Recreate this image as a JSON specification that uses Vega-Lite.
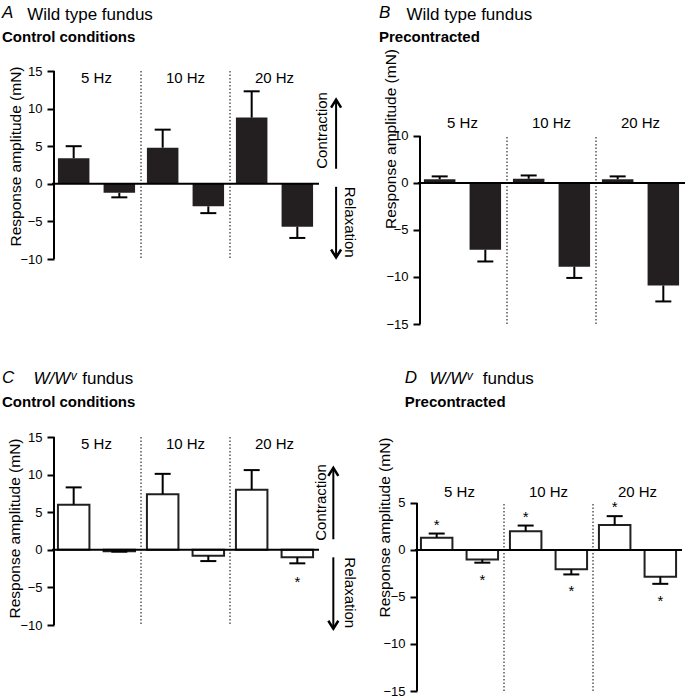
{
  "$schema": "https://vega.github.io/schema/vega-lite/v6.json",
  "padding": {"left": 2, "top": 4, "right": 0, "bottom": 0},
  "datasets": {
    "rows": [
      {"panel": "A", "freq": "5 Hz", "type": "Contraction", "value": 3.4, "end": 5.0, "sig": ""},
      {"panel": "A", "freq": "5 Hz", "type": "Relaxation", "value": -1.2, "end": -1.8, "sig": ""},
      {"panel": "A", "freq": "10 Hz", "type": "Contraction", "value": 4.8, "end": 7.2, "sig": ""},
      {"panel": "A", "freq": "10 Hz", "type": "Relaxation", "value": -3.0, "end": -3.9, "sig": ""},
      {"panel": "A", "freq": "20 Hz", "type": "Contraction", "value": 8.8, "end": 12.3, "sig": ""},
      {"panel": "A", "freq": "20 Hz", "type": "Relaxation", "value": -5.7, "end": -7.2, "sig": ""},
      {"panel": "B", "freq": "5 Hz", "type": "Contraction", "value": 0.4, "end": 0.7, "sig": ""},
      {"panel": "B", "freq": "5 Hz", "type": "Relaxation", "value": -7.1, "end": -8.35, "sig": ""},
      {"panel": "B", "freq": "10 Hz", "type": "Contraction", "value": 0.45, "end": 0.8, "sig": ""},
      {"panel": "B", "freq": "10 Hz", "type": "Relaxation", "value": -8.9, "end": -10.1, "sig": ""},
      {"panel": "B", "freq": "20 Hz", "type": "Contraction", "value": 0.4, "end": 0.7, "sig": ""},
      {"panel": "B", "freq": "20 Hz", "type": "Relaxation", "value": -10.9, "end": -12.6, "sig": ""},
      {"panel": "C", "freq": "5 Hz", "type": "Contraction", "value": 6.0, "end": 8.3, "sig": ""},
      {"panel": "C", "freq": "5 Hz", "type": "Relaxation", "value": -0.2, "end": -0.25, "sig": ""},
      {"panel": "C", "freq": "10 Hz", "type": "Contraction", "value": 7.4, "end": 10.1, "sig": ""},
      {"panel": "C", "freq": "10 Hz", "type": "Relaxation", "value": -0.8, "end": -1.5, "sig": ""},
      {"panel": "C", "freq": "20 Hz", "type": "Contraction", "value": 8.0, "end": 10.6, "sig": ""},
      {"panel": "C", "freq": "20 Hz", "type": "Relaxation", "value": -1.0, "end": -1.8, "sig": "*"},
      {"panel": "D", "freq": "5 Hz", "type": "Contraction", "value": 1.3, "end": 1.75, "sig": "*"},
      {"panel": "D", "freq": "5 Hz", "type": "Relaxation", "value": -1.0, "end": -1.35, "sig": "*"},
      {"panel": "D", "freq": "10 Hz", "type": "Contraction", "value": 2.0, "end": 2.6, "sig": "*"},
      {"panel": "D", "freq": "10 Hz", "type": "Relaxation", "value": -2.05, "end": -2.6, "sig": "*"},
      {"panel": "D", "freq": "20 Hz", "type": "Contraction", "value": 2.65, "end": 3.6, "sig": "*"},
      {"panel": "D", "freq": "20 Hz", "type": "Relaxation", "value": -2.85, "end": -3.6, "sig": "*"}
    ]
  },
  "vconcat": [
    {
      "hconcat": [
        {
          "width": 267, "height": 188,
          "title": {"text": "A", "subtitle": "Control conditions", "dx": -50},
          "data": {"name": "rows"},
          "transform": [{"filter": "datum.panel === 'A'"}],
          "resolve": {"axis": {"x": "independent", "y": "independent"}},
          "layer": [
            {
              "encoding": {
                "x": {"field": "freq", "type": "nominal", "scale": {"domain": ["5 Hz", "10 Hz", "20 Hz"], "paddingInner": 0, "paddingOuter": 0}, "axis": null},
                "xOffset": {"field": "type", "type": "nominal", "scale": {"domain": ["Contraction", "Relaxation"], "paddingInner": 0.31, "paddingOuter": 0.13}},
                "y": {"field": "value", "type": "quantitative", "scale": {"domain": [-10, 15], "nice": false}, "axis": null}
              },
              "resolve": {"axis": {"x": "independent", "y": "independent"}},
              "layer": [
                {"mark": {"type": "bar", "fill": "#231f20"},
                 "encoding": {
                   "x": {"field": "freq", "type": "nominal", "scale": {"domain": ["5 Hz", "10 Hz", "20 Hz"], "paddingInner": 0, "paddingOuter": 0},
                         "axis": {"orient": "top", "title": "Wild type fundus", "titleX": -25.3, "titleY": -51.7, "labelPadding": -14}},
                   "y": {"field": "value", "type": "quantitative", "scale": {"domain": [-10, 15], "nice": false},
                         "axis": {"values": [-10, -5, 0, 5, 10, 15], "title": "Response amplitude (mN)", "titleX": -38.5, "titleY": 85}}
                 }},
                {"mark": {"type": "rule", "strokeWidth": 2, "color": "black"}, "encoding": {"y2": {"field": "end"}}},
                {"mark": {"type": "tick", "size": 16, "thickness": 2, "color": "black", "opacity": 1},
                 "encoding": {"y": {"field": "end", "type": "quantitative", "axis": null}}}
              ]
            },
            {
              "mark": {"type": "rule", "strokeDash": [1.5, 2], "strokeWidth": 1, "color": "black"},
              "transform": [{"filter": "datum.type === 'Contraction' && datum.freq !== '5 Hz'"}],
              "encoding": {"x": {"field": "freq", "type": "nominal", "bandPosition": 0, "axis": null}}
            },
            {
              "mark": {"type": "rule", "strokeWidth": 2, "color": "black"},
              "transform": [{"filter": "datum.type === 'Contraction' && datum.freq === '5 Hz'"}],
              "encoding": {
                "x": {"field": "freq", "type": "nominal", "bandPosition": 0.0225, "axis": null},
                "y": {"datum": -10, "type": "quantitative", "axis": null}, "y2": {"datum": 15}
              }
            },
            {
              "data": {"values": [{}]},
              "mark": {"type": "rule", "strokeWidth": 2, "color": "black"},
              "encoding": {"y": {"datum": 0, "type": "quantitative", "axis": null}}
            },
            {
              "data": {"values": [{}]},
              "mark": {"type": "rule", "strokeWidth": 2, "color": "black"},
              "encoding": {
                "x": {"datum": "20 Hz", "type": "nominal", "bandPosition": 1.192, "axis": null},
                "y": {"datum": 2.0, "type": "quantitative", "axis": null}, "y2": {"datum": 11.2}
              }
            },
            {
              "data": {"values": [{}]},
              "mark": {"type": "point", "shape": "M-1,1.6L0,0L1,1.6", "size": 100, "filled": false, "strokeWidth": 2.5, "color": "black", "opacity": 1},
              "encoding": {
                "x": {"datum": "20 Hz", "type": "nominal", "bandPosition": 1.192, "axis": null},
                "y": {"datum": 11.2, "type": "quantitative", "axis": null}
              }
            },
            {
              "data": {"values": [{}]},
              "mark": {"type": "rule", "strokeWidth": 2, "color": "black"},
              "encoding": {
                "x": {"datum": "20 Hz", "type": "nominal", "bandPosition": 1.192, "axis": null},
                "y": {"datum": -0.4, "type": "quantitative", "axis": null}, "y2": {"datum": -9.8}
              }
            },
            {
              "data": {"values": [{}]},
              "mark": {"type": "point", "shape": "M-1,-1.6L0,0L1,-1.6", "size": 100, "filled": false, "strokeWidth": 2.5, "color": "black", "opacity": 1},
              "encoding": {
                "x": {"datum": "20 Hz", "type": "nominal", "bandPosition": 1.192, "axis": null},
                "y": {"datum": -9.8, "type": "quantitative", "axis": null}
              }
            },
            {
              "data": {"values": [{}]},
              "mark": {"type": "text", "text": "Contraction", "angle": 270, "align": "left", "baseline": "middle", "fontSize": 15, "color": "black"},
              "encoding": {
                "x": {"datum": "20 Hz", "type": "nominal", "bandPosition": 1.031, "axis": null},
                "y": {"datum": 2.0, "type": "quantitative", "axis": null}
              }
            },
            {
              "data": {"values": [{}]},
              "mark": {"type": "text", "text": "Relaxation", "angle": 90, "align": "left", "baseline": "middle", "fontSize": 15, "color": "black"},
              "encoding": {
                "x": {"datum": "20 Hz", "type": "nominal", "bandPosition": 1.353, "axis": null},
                "y": {"datum": -0.4, "type": "quantitative", "axis": null}
              }
            }
          ]
        },
        {
          "width": 267, "height": 253,
          "title": {"text": "B", "subtitle": "Precontracted", "dx": -39},
          "data": {"name": "rows"},
          "transform": [{"filter": "datum.panel === 'B'"}],
          "resolve": {"axis": {"x": "independent", "y": "independent"}},
          "layer": [
            {
              "encoding": {
                "x": {"field": "freq", "type": "nominal", "scale": {"domain": ["5 Hz", "10 Hz", "20 Hz"], "paddingInner": 0, "paddingOuter": 0}, "axis": null},
                "xOffset": {"field": "type", "type": "nominal", "scale": {"domain": ["Contraction", "Relaxation"], "paddingInner": 0.31, "paddingOuter": 0.13}},
                "y": {"field": "value", "type": "quantitative", "scale": {"domain": [-15, 11.91], "nice": false}, "axis": null}
              },
              "resolve": {"axis": {"x": "independent", "y": "independent"}},
              "layer": [
                {"mark": {"type": "bar", "fill": "#231f20"},
                 "encoding": {
                   "x": {"field": "freq", "type": "nominal", "scale": {"domain": ["5 Hz", "10 Hz", "20 Hz"], "paddingInner": 0, "paddingOuter": 0},
                         "axis": {"orient": "top", "title": "Wild type fundus", "titleX": -12, "titleY": -51.7, "labelPadding": -59}},
                   "y": {"field": "value", "type": "quantitative", "scale": {"domain": [-15, 11.91], "nice": false},
                         "axis": {"values": [-15, -10, -5, 0, 5], "labelExpr": "datum.value === 5 ? '10' : datum.label", "title": "Response amplitude (mN)", "titleX": -29.5, "titleY": 67.5}}
                 }},
                {"mark": {"type": "rule", "strokeWidth": 2, "color": "black"}, "encoding": {"y2": {"field": "end"}}},
                {"mark": {"type": "tick", "size": 16, "thickness": 2, "color": "black", "opacity": 1},
                 "encoding": {"y": {"field": "end", "type": "quantitative", "axis": null}}}
              ]
            },
            {
              "mark": {"type": "rule", "strokeDash": [1.5, 2], "strokeWidth": 1, "color": "black"},
              "transform": [{"filter": "datum.type === 'Contraction' && datum.freq !== '5 Hz'"}],
              "encoding": {
                "x": {"field": "freq", "type": "nominal", "bandPosition": 0, "axis": null},
                "y": {"datum": -15, "type": "quantitative", "axis": null}, "y2": {"datum": 5}
              }
            },
            {
              "mark": {"type": "rule", "strokeWidth": 2, "color": "black"},
              "transform": [{"filter": "datum.type === 'Contraction' && datum.freq === '5 Hz'"}],
              "encoding": {
                "x": {"field": "freq", "type": "nominal", "bandPosition": 0.0225, "axis": null},
                "y": {"datum": -15, "type": "quantitative", "axis": null}, "y2": {"datum": 5}
              }
            },
            {
              "data": {"values": [{}]},
              "mark": {"type": "rule", "strokeWidth": 2, "color": "black"},
              "encoding": {"y": {"datum": 0, "type": "quantitative", "axis": null}}
            }
          ]
        }
      ],
      "align": "none",
      "spacing": 21
    },
    {
      "hconcat": [
        {
          "width": 267, "height": 188,
          "title": {"text": "C", "subtitle": "Control conditions", "dx": -50},
          "data": {"name": "rows"},
          "transform": [{"filter": "datum.panel === 'C'"}],
          "resolve": {"axis": {"x": "independent", "y": "independent"}},
          "layer": [
            {
              "encoding": {
                "x": {"field": "freq", "type": "nominal", "scale": {"domain": ["5 Hz", "10 Hz", "20 Hz"], "paddingInner": 0, "paddingOuter": 0}, "axis": null},
                "xOffset": {"field": "type", "type": "nominal", "scale": {"domain": ["Contraction", "Relaxation"], "paddingInner": 0.31, "paddingOuter": 0.13}},
                "y": {"field": "value", "type": "quantitative", "scale": {"domain": [-10, 15], "nice": false}, "axis": null}
              },
              "resolve": {"axis": {"x": "independent", "y": "independent"}},
              "layer": [
                {"mark": {"type": "bar", "fill": "white", "stroke": "#231f20", "strokeWidth": 2},
                 "encoding": {
                   "x": {"field": "freq", "type": "nominal", "scale": {"domain": ["5 Hz", "10 Hz", "20 Hz"], "paddingInner": 0, "paddingOuter": 0},
                         "axis": {"orient": "top", "title": "W/Wᵛ", "titleFontStyle": "italic", "titleX": -19, "titleY": -53.3, "labelPadding": -14.7}},
                   "y": {"field": "value", "type": "quantitative", "scale": {"domain": [-10, 15], "nice": false},
                         "axis": {"values": [-10, -5, 0, 5, 10, 15], "title": "Response amplitude (mN)", "titleX": -39.5, "titleY": 91}}
                 }},
                {"mark": {"type": "rule", "strokeWidth": 2, "color": "black"}, "encoding": {"y2": {"field": "end"}}},
                {"mark": {"type": "tick", "size": 16, "thickness": 2, "color": "black", "opacity": 1},
                 "encoding": {"y": {"field": "end", "type": "quantitative", "axis": null}}},
                {"mark": {"type": "text", "fontSize": 15, "baseline": "alphabetic", "dy": 24, "color": "black"},
                 "transform": [{"filter": "datum.type === 'Relaxation'"}],
                 "encoding": {"y": {"field": "end", "type": "quantitative", "axis": null}, "text": {"field": "sig"}}}
              ]
            },
            {
              "mark": {"type": "rule", "strokeDash": [1.5, 2], "strokeWidth": 1, "color": "black"},
              "transform": [{"filter": "datum.type === 'Contraction' && datum.freq !== '5 Hz'"}],
              "encoding": {"x": {"field": "freq", "type": "nominal", "bandPosition": 0,
                "axis": {"orient": "bottom", "title": "fundus", "titleX": 29.7, "titleY": -241.3, "labels": false, "domain": false, "ticks": false}}}
            },
            {
              "mark": {"type": "rule", "strokeWidth": 2, "color": "black"},
              "transform": [{"filter": "datum.type === 'Contraction' && datum.freq === '5 Hz'"}],
              "encoding": {
                "x": {"field": "freq", "type": "nominal", "bandPosition": 0.0225, "axis": null},
                "y": {"datum": -10, "type": "quantitative", "axis": null}, "y2": {"datum": 15}
              }
            },
            {
              "data": {"values": [{}]},
              "mark": {"type": "rule", "strokeWidth": 2, "color": "black"},
              "encoding": {"y": {"datum": 0, "type": "quantitative", "axis": null}}
            },
            {
              "data": {"values": [{}]},
              "mark": {"type": "rule", "strokeWidth": 2, "color": "black"},
              "encoding": {
                "x": {"datum": "20 Hz", "type": "nominal", "bandPosition": 1.161, "axis": null},
                "y": {"datum": 1.4, "type": "quantitative", "axis": null}, "y2": {"datum": 10.9}
              }
            },
            {
              "data": {"values": [{}]},
              "mark": {"type": "point", "shape": "M-1,1.6L0,0L1,1.6", "size": 100, "filled": false, "strokeWidth": 2.5, "color": "black", "opacity": 1},
              "encoding": {
                "x": {"datum": "20 Hz", "type": "nominal", "bandPosition": 1.161, "axis": null},
                "y": {"datum": 10.9, "type": "quantitative", "axis": null}
              }
            },
            {
              "data": {"values": [{}]},
              "mark": {"type": "rule", "strokeWidth": 2, "color": "black"},
              "encoding": {
                "x": {"datum": "20 Hz", "type": "nominal", "bandPosition": 1.161, "axis": null},
                "y": {"datum": -1.0, "type": "quantitative", "axis": null}, "y2": {"datum": -10.5}
              }
            },
            {
              "data": {"values": [{}]},
              "mark": {"type": "point", "shape": "M-1,-1.6L0,0L1,-1.6", "size": 100, "filled": false, "strokeWidth": 2.5, "color": "black", "opacity": 1},
              "encoding": {
                "x": {"datum": "20 Hz", "type": "nominal", "bandPosition": 1.161, "axis": null},
                "y": {"datum": -10.5, "type": "quantitative", "axis": null}
              }
            },
            {
              "data": {"values": [{}]},
              "mark": {"type": "text", "text": "Contraction", "angle": 270, "align": "left", "baseline": "middle", "fontSize": 15, "color": "black"},
              "encoding": {
                "x": {"datum": "20 Hz", "type": "nominal", "bandPosition": 1.019, "axis": null},
                "y": {"datum": 1.2, "type": "quantitative", "axis": null}
              }
            },
            {
              "data": {"values": [{}]},
              "mark": {"type": "text", "text": "Relaxation", "angle": 90, "align": "left", "baseline": "middle", "fontSize": 15, "color": "black"},
              "encoding": {
                "x": {"datum": "20 Hz", "type": "nominal", "bandPosition": 1.348, "axis": null},
                "y": {"datum": -1.0, "type": "quantitative", "axis": null}
              }
            }
          ]
        },
        {
          "width": 267, "height": 254,
          "title": {"text": "D", "subtitle": "Precontracted", "dx": -10.3},
          "data": {"name": "rows"},
          "transform": [{"filter": "datum.panel === 'D'"}],
          "resolve": {"axis": {"x": "independent", "y": "independent"}},
          "layer": [
            {
              "encoding": {
                "x": {"field": "freq", "type": "nominal", "scale": {"domain": ["5 Hz", "10 Hz", "20 Hz"], "paddingInner": 0, "paddingOuter": 0}, "axis": null},
                "xOffset": {"field": "type", "type": "nominal", "scale": {"domain": ["Contraction", "Relaxation"], "paddingInner": 0.31, "paddingOuter": 0.13}},
                "y": {"field": "value", "type": "quantitative", "scale": {"domain": [-15, 12.02], "nice": false}, "axis": null}
              },
              "resolve": {"axis": {"x": "independent", "y": "independent"}},
              "layer": [
                {"mark": {"type": "bar", "fill": "white", "stroke": "#231f20", "strokeWidth": 2},
                 "encoding": {
                   "x": {"field": "freq", "type": "nominal", "scale": {"domain": ["5 Hz", "10 Hz", "20 Hz"], "paddingInner": 0, "paddingOuter": 0},
                         "axis": {"orient": "top", "title": "W/Wᵛ", "titleFontStyle": "italic", "titleX": 14, "titleY": -53.3, "labelPadding": -62.3}},
                   "y": {"field": "value", "type": "quantitative", "scale": {"domain": [-15, 12.02], "nice": false},
                         "axis": {"values": [-15, -10, -5, 0, 5], "title": "Response amplitude (mN)", "titleX": -33, "titleY": 90}}
                 }},
                {"mark": {"type": "rule", "strokeWidth": 2, "color": "black"}, "encoding": {"y2": {"field": "end"}}},
                {"mark": {"type": "tick", "size": 16, "thickness": 2, "color": "black", "opacity": 1},
                 "encoding": {"y": {"field": "end", "type": "quantitative", "axis": null}}},
                {"mark": {"type": "text", "fontSize": 15, "baseline": "alphabetic", "dy": -4, "color": "black"},
                 "transform": [{"filter": "datum.type === 'Contraction'"}],
                 "encoding": {"y": {"field": "end", "type": "quantitative", "axis": null}, "text": {"field": "sig"}}},
                {"mark": {"type": "text", "fontSize": 15, "baseline": "alphabetic", "dy": 22, "color": "black"},
                 "transform": [{"filter": "datum.type === 'Relaxation'"}],
                 "encoding": {"y": {"field": "end", "type": "quantitative", "axis": null}, "text": {"field": "sig"}}}
              ]
            },
            {
              "mark": {"type": "rule", "strokeDash": [1.5, 2], "strokeWidth": 1, "color": "black"},
              "transform": [{"filter": "datum.type === 'Contraction' && datum.freq !== '5 Hz'"}],
              "encoding": {
                "x": {"field": "freq", "type": "nominal", "bandPosition": 0,
                  "axis": {"orient": "bottom", "title": "fundus", "titleX": 67.3, "titleY": -307.3, "labels": false, "domain": false, "ticks": false}},
                "y": {"datum": -15, "type": "quantitative", "axis": null}, "y2": {"datum": 5}
              }
            },
            {
              "mark": {"type": "rule", "strokeWidth": 2, "color": "black"},
              "transform": [{"filter": "datum.type === 'Contraction' && datum.freq === '5 Hz'"}],
              "encoding": {
                "x": {"field": "freq", "type": "nominal", "bandPosition": 0.0225, "axis": null},
                "y": {"datum": -15, "type": "quantitative", "axis": null}, "y2": {"datum": 5}
              }
            },
            {
              "data": {"values": [{}]},
              "mark": {"type": "rule", "strokeWidth": 2, "color": "black"},
              "encoding": {"y": {"datum": 0, "type": "quantitative", "axis": null}}
            }
          ]
        }
      ],
      "align": "none",
      "spacing": 19
    }
  ],
  "align": "none",
  "spacing": 37,
  "config": {
    "font": "Liberation Sans",
    "view": {"stroke": null},
    "title": {"anchor": "start", "frame": "group", "offset": -41, "fontSize": 17, "fontStyle": "italic", "fontWeight": "normal", "color": "black",
              "subtitleFontSize": 15, "subtitleFontWeight": "bold", "subtitleFontStyle": "normal", "subtitleColor": "black", "subtitlePadding": 8},
    "axis": {"grid": false, "labelColor": "black", "titleColor": "black", "domainColor": "black", "tickColor": "black"},
    "axisX": {"domain": false, "ticks": false, "tickSize": 0, "labelAngle": 0, "labelFontSize": 15, "titleFontSize": 17, "titleFontWeight": "normal",
              "titleAlign": "left", "titleBaseline": "alphabetic", "titleAngle": 0},
    "axisY": {"domain": false, "ticks": true, "tickWidth": 2, "tickSize": 7, "labelFontSize": 13, "labelPadding": 5, "offset": -2,
              "titleFontSize": 15.5, "titleFontWeight": "normal", "titleBaseline": "middle", "titleAlign": "center"}
  }
}
